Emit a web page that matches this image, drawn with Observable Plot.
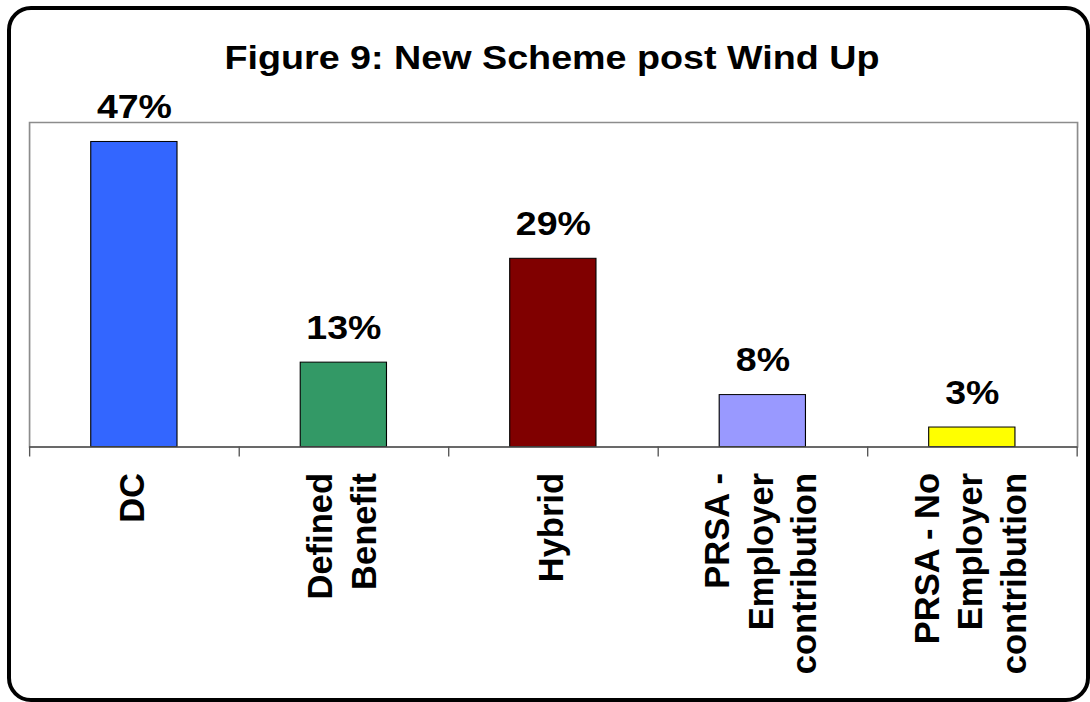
<!DOCTYPE html>
<html>
<head>
<meta charset="utf-8">
<script src="https://cdn.jsdelivr.net/npm/d3@7"></script>
<script src="https://cdn.jsdelivr.net/npm/@observablehq/plot@0.6"></script>
<style>
  html, body { margin: 0; padding: 0; background: #fff; }
  #wrap { position: relative; width: 1090px; height: 702px; overflow: hidden; background: #fff; }
  #border { position: absolute; left: 7px; top: 6px; width: 1083px; height: 696px; box-sizing: border-box;
            border: 4px solid #000; border-radius: 24px; }
  #title { position: absolute; left: 7px; top: 40.6px; width: 1090px; text-align: center;
           font: bold 33.5px "Liberation Sans", Arial, sans-serif; line-height: 33.5px; color: #000;
           transform: scaleX(1.125); transform-origin: 545px 50%; white-space: nowrap; }
  #chart { position: absolute; left: 0; top: 75px; }
</style>
</head>
<body>
<div id="wrap">
  <div id="border"></div>
  <div id="title">Figure 9: New Scheme post Wind Up</div>
  <div id="chart"></div>
</div>
<script>
const categories = ["DC", "Defined Benefit", "Hybrid", "PRSA - Employer contribution", "PRSA - No Employer contribution"];
const labels = ["DC", "Defined\nBenefit", "Hybrid", "PRSA -\nEmployer\ncontribution", "PRSA - No\nEmployer\ncontribution"];
const values = [47, 13, 29, 8, 3];
const colors = ["#3366FF", "#339966", "#800000", "#9999FF", "#FFFF00"];

const data = categories.map((c, i) => ({cat: c, label: labels[i], value: values[i], color: colors[i]}));

const stretch = 1.12;          // horizontal stretch of the reference picture
const outW = 1090, H = 627;
const W = Math.round(outW / stretch);
const mL = 29 / stretch, mR = 13 / stretch, mT = 47, mB = 255.5;
const half = (W - mL - mR) / categories.length / 2;
const fs = 33.5;
const lfs = 34.5;
const font = "Liberation Sans, Arial, sans-serif";

const chart = Plot.plot({
  width: W,
  height: H,
  marginLeft: mL,
  marginRight: mR,
  marginTop: mT,
  marginBottom: mB,
  style: {background: "transparent", fontFamily: font},
  x: {type: "band", domain: categories, paddingInner: 0.59, paddingOuter: 0.295, axis: null},
  y: {domain: [0, 50], axis: null},
  color: {type: "identity"},
  marks: [
    Plot.frame({stroke: "#8c8c8c", strokeWidth: 1.5}),
    Plot.barY(data, {x: "cat", y: "value", fill: "color", stroke: "#000", strokeWidth: 1}),
    Plot.ruleY([0], {stroke: "#555", strokeWidth: 1.5}),
    Plot.ruleX(categories, {x: d => d, y1: 0, y2: 0, dx: half, insetBottom: -10, stroke: "#555", strokeWidth: 1.2}),
    Plot.ruleX(categories.slice(0, 1), {x: d => d, y1: 0, y2: 0, dx: -half, insetBottom: -10, stroke: "#555", strokeWidth: 1.2}),
    Plot.text(data, {x: "cat", y: "value", text: d => d.value + "%", dy: -(24 + 0.32 * fs),
      fontSize: fs, fontWeight: "bold", fill: "#000", fontFamily: font, lineAnchor: "middle"}),
    Plot.text(data, {x: "cat", text: "label", frameAnchor: "bottom", rotate: -90, textAnchor: "end",
      lineAnchor: "middle", lineHeight: 43.5 / lfs, dx: -4 / stretch, dy: 26, fontSize: lfs, fontWeight: "bold",
      fill: "#000", fontFamily: font})
  ]
});

// undo the horizontal stretch on the glyph height of the rotated category labels
const textGroups = chart.querySelectorAll('g[aria-label="text"]');
const labelGroup = textGroups[textGroups.length - 1];
labelGroup.querySelectorAll("text").forEach(t => {
  const tr = t.getAttribute("transform") || "";
  t.setAttribute("transform", tr + ` scale(1,${1 / stretch})`);
});

chart.setAttribute("width", outW);
chart.setAttribute("height", H);
chart.setAttribute("preserveAspectRatio", "none");
chart.style.width = outW + "px";
chart.style.height = H + "px";
chart.style.maxWidth = "none";
document.getElementById("chart").appendChild(chart);
</script>
</body>
</html>
